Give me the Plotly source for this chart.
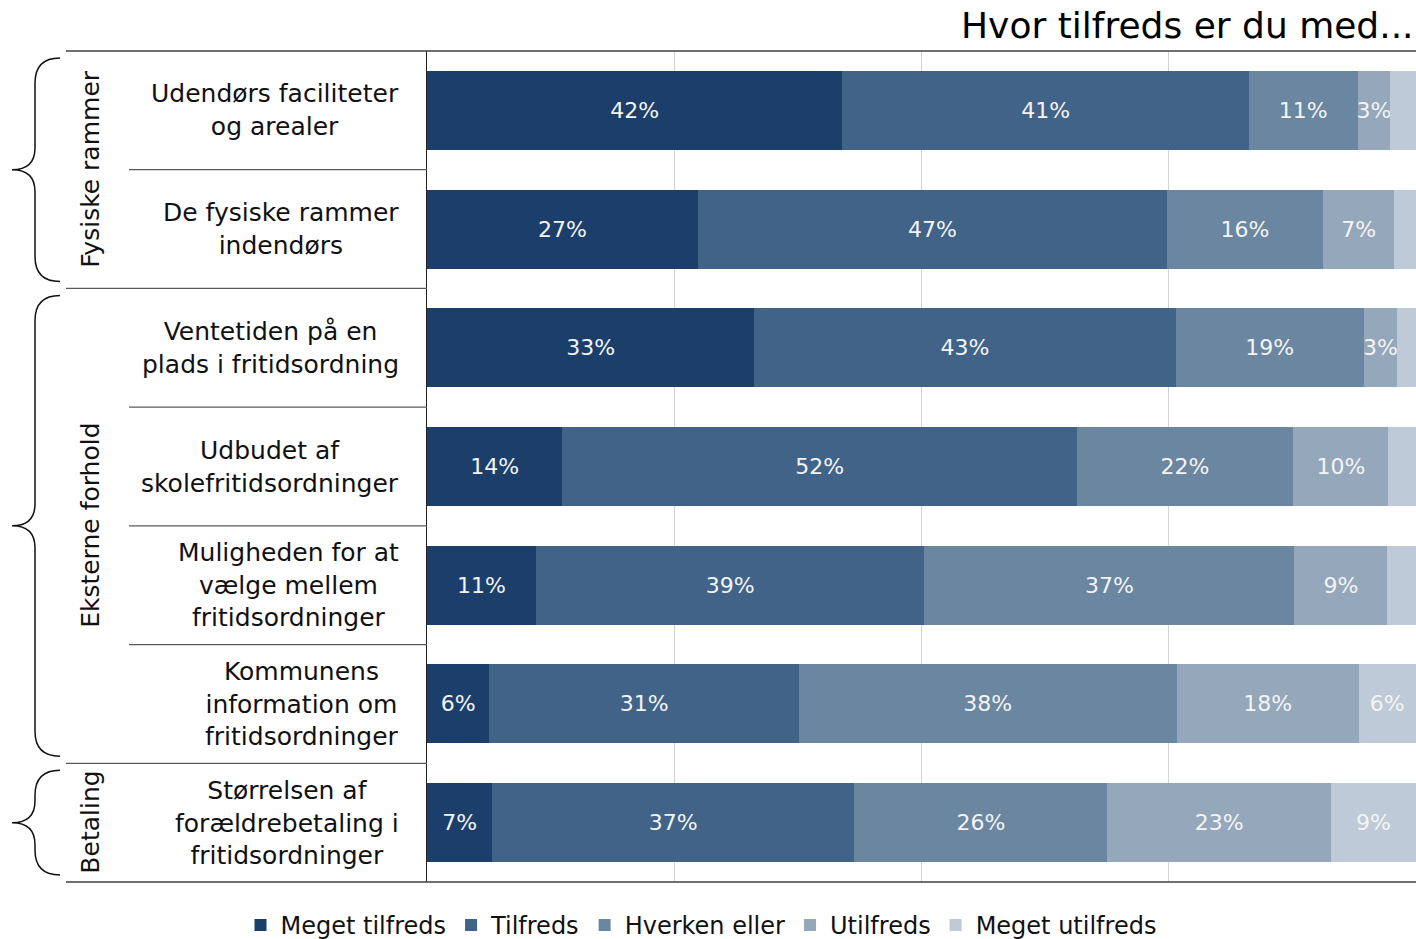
"""Stacked satisfaction bars: Hvor tilfreds er du med..."""

import plotly.graph_objects as go

# Data
categories = [
    "Udendørs faciliteter<br>og arealer",
    "De fysiske rammer<br>indendørs",
    "Ventetiden på en<br>plads i fritidsordning",
    "Udbudet af<br>skolefritidsordninger",
    "Muligheden for at<br>vælge mellem<br>fritidsordninger",
    "Kommunens<br>information om<br>fritidsordninger",
    "Størrelsen af<br>forældrebetaling i<br>fritidsordninger",
]
meget_tilfreds = [42.0, 27.4, 33.1, 13.7, 11.0, 6.3, 6.6]
tilfreds = [41.1, 47.4, 42.6, 52.0, 39.3, 31.3, 36.6]
hverken_eller = [11.0, 15.8, 19.0, 21.9, 37.4, 38.2, 25.6]
utilfreds = [3.3, 7.2, 3.4, 9.6, 9.4, 18.4, 22.6]
meget_utilfreds = [2.6, 2.2, 1.9, 2.8, 2.9, 5.8, 8.6]

series_names = ["Meget tilfreds", "Tilfreds", "Hverken eller", "Utilfreds", "Meget utilfreds"]
series_values = [meget_tilfreds, tilfreds, hverken_eller, utilfreds, meget_utilfreds]
colors = ["#1b3f6a", "#416388", "#6a86a0", "#95a7bb", "#becad7"]

group_names = ["Fysiske rammer", "Eksterne forhold", "Betaling"]
group_sizes = [2, 4, 1]

# Page geometry (pixels)
W, H = 1416, 939
L, T, B = 427, 51, 57
PLOT_W = W - L
PLOT_H = H - T - B
ROW_H = PLOT_H / len(categories)
FONT = "DejaVu Sans, Verdana, sans-serif"


def px_x(px):
    return (px - L) / PLOT_W


def px_y(py):
    return (H - B - py) / PLOT_H


fig = go.Figure()

for name, vals, col in zip(series_names, series_values, colors):
    fig.add_trace(go.Bar(
        y=categories,
        x=vals,
        name=name,
        orientation='h',
        marker=dict(color=col, line=dict(width=0)),
        text=[f"{v:.0f}%" if v >= 3 else "" for v in vals],
        textposition='inside',
        insidetextanchor='middle',
        textangle=0,
        constraintext='none',
        textfont=dict(family=FONT, size=22, color='#f4f4f4'),
        hovertemplate='%{y}<br>' + name + ': %{x:.1f}%<extra></extra>',
    ))

shapes = []
annotations = []

# Top and bottom frame lines
for yy in (1, 0):
    shapes.append(dict(type='line', xref='paper', yref='paper',
                       x0=px_x(66), x1=1, y0=yy, y1=yy,
                       line=dict(color='#404040', width=1.3)))

# Row separators in the label area
group_edges = []
acc = 0
for s in group_sizes:
    acc += s
    group_edges.append(acc)
for i in range(1, len(categories)):
    x_start = 66 if i in group_edges else 129
    shapes.append(dict(type='line', xref='paper', yref='y',
                       x0=px_x(x_start), x1=0, y0=i - 0.5, y1=i - 0.5,
                       line=dict(color='#5a5a5a', width=1.3)))

# Category labels
for i, cat in enumerate(categories):
    annotations.append(dict(
        text=cat, xref='paper', yref='y', x=px_x(401), y=i,
        xanchor='right', yanchor='middle', align='center', showarrow=False,
        font=dict(family=FONT, size=25, color='#111111'),
    ))

# Group labels and braces
start = 0
for gname, size in zip(group_names, group_sizes):
    top = T + start * ROW_H + 7
    bot = T + (start + size) * ROW_H - 7
    mid = (top + bot) / 2
    annotations.append(dict(
        text=gname, xref='paper', yref='paper', x=px_x(91), y=px_y(mid),
        textangle=-90, xanchor='center', yanchor='middle', showarrow=False,
        font=dict(family=FONT, size=25, color='#111111'),
    ))
    pts = [
        (60, top), (35, top), (35, top + 25),
        (35, mid - 22), (35, mid), (12, mid), (35, mid), (35, mid + 22),
        (35, bot - 25), (35, bot), (60, bot),
    ]
    p = [(px_x(a), px_y(b)) for a, b in pts]
    path = (f"M {p[0][0]},{p[0][1]} Q {p[1][0]},{p[1][1]} {p[2][0]},{p[2][1]} "
            f"L {p[3][0]},{p[3][1]} Q {p[4][0]},{p[4][1]} {p[5][0]},{p[5][1]} "
            f"Q {p[6][0]},{p[6][1]} {p[7][0]},{p[7][1]} "
            f"L {p[8][0]},{p[8][1]} Q {p[9][0]},{p[9][1]} {p[10][0]},{p[10][1]}")
    shapes.append(dict(type='path', xref='paper', yref='paper', path=path,
                       line=dict(color='#111111', width=1.5)))
    start += size

# Title
annotations.append(dict(
    text="Hvor tilfreds er du med...", xref='paper', yref='paper',
    x=1, y=px_y(26), xanchor='right', yanchor='middle', showarrow=False,
    font=dict(family=FONT, size=36, color='#000000'),
))

fig.update_layout(
    barmode='stack',
    bargap=0.334,
    width=W, height=H,
    margin=dict(l=L, r=0, t=T, b=B, autoexpand=False),
    plot_bgcolor='white',
    paper_bgcolor='white',
    font=dict(family=FONT, color='#111111'),
    shapes=shapes,
    annotations=annotations,
    uniformtext=dict(minsize=22, mode='show'),
    legend=dict(
        orientation='h',
        traceorder='normal',
        x=px_x(701), xanchor='center',
        y=px_y(903), yanchor='top',
        font=dict(family=FONT, size=24, color='#111111'),
        itemwidth=30,
        tracegroupgap=0,
        bgcolor='rgba(0,0,0,0)',
    ),
    showlegend=True,
)

fig.update_xaxes(
    range=[0, 100],
    tickvals=[25, 50, 75],
    showticklabels=False,
    showgrid=True,
    gridcolor='#d3d3d3',
    gridwidth=1,
    zeroline=False,
    showline=False,
    fixedrange=True,
)

fig.update_yaxes(
    categoryorder='array',
    categoryarray=categories,
    autorange='reversed',
    showticklabels=False,
    showgrid=False,
    showline=True,
    linecolor='#222222',
    linewidth=1.3,
    zeroline=False,
    fixedrange=True,
)

# the browser's default body margin would push the figure off the page
fig.write_html(
    "out.html",
    config={'displayModeBar': False},
    post_script="document.body.style.margin='0px';",
)
